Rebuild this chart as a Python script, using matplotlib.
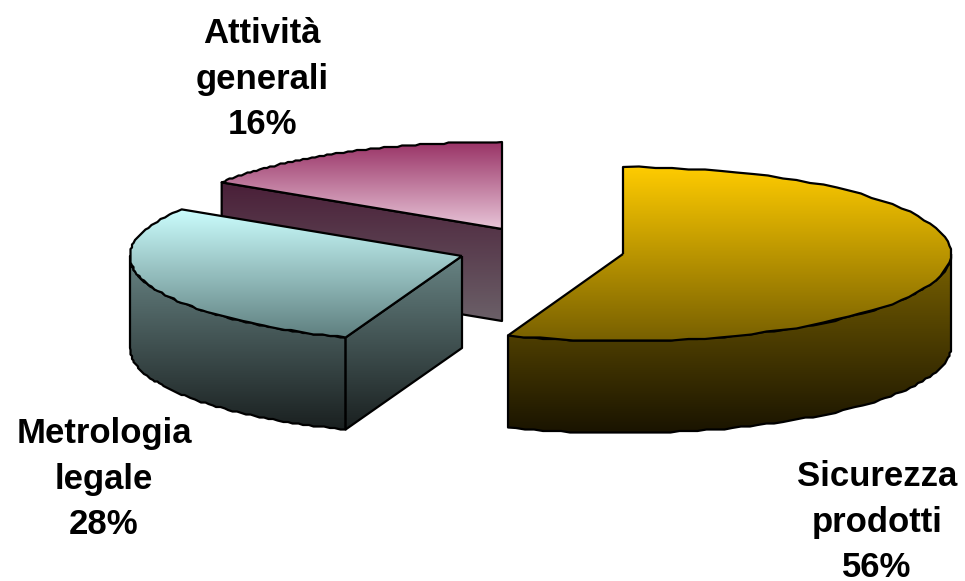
import numpy as np
import matplotlib
matplotlib.use("Agg")
import matplotlib.pyplot as plt
from matplotlib.colors import LinearSegmentedColormap
from matplotlib.patches import PathPatch
from matplotlib.path import Path

# shares, clockwise from 12 o'clock
names = [["Sicurezza", "prodotti"], ["Metrologia", "legale"], ["Attività", "generali"]]
shares = [55.7, 28.3, 16.0]

# apex of every exploded slice on the canvas (pixels)
centers = [(623, 254), (462, 256), (502, 229)]
radii_x = [328, 332, 332]
radius_y = 87
depth = 92

top_colors = [("#FFCC00", "#786000"), ("#CCFFFF", "#5F7F7F"), ("#993366", "#E8C5D8")]
side_colors = [("#7A6200", "#1A1400"), ("#688484", "#1A2020"), ("#4A1F38", "#6B6068")]
# first line baseline of each label
label_pos = [(877, 486), (104, 443), (262, 43)]
line_step = 45.7


def rim(center, rx, start, end, n=70):
    # ellipse points, angles in degrees clockwise from the top
    a = np.radians(np.linspace(start, end, n))
    pts = np.column_stack((center[0] + rx * np.sin(a), center[1] - radius_y * np.cos(a)))
    # the original outline is slightly stepped
    pts[1:-1] = np.round(pts[1:-1] / 1.5) * 1.5
    return pts


def gradient_poly(ax, pts, colors, zorder):
    pts = np.asarray(pts)
    cmap = LinearSegmentedColormap.from_list("g", colors)
    x0, x1 = pts[:, 0].min(), pts[:, 0].max()
    y0, y1 = pts[:, 1].min(), pts[:, 1].max()
    grad = np.linspace(0, 1, 256).reshape(-1, 1)
    im = ax.imshow(grad, cmap=cmap, extent=(x0, x1, y1, y0), aspect="auto", zorder=zorder,
                   interpolation="bilinear")
    patch = PathPatch(Path(np.vstack((pts, pts[:1]))), facecolor="none", edgecolor="black",
                      linewidth=1.6, joinstyle="round", zorder=zorder + 0.5)
    ax.add_patch(patch)
    im.set_clip_path(patch)


def draw_slice(ax, i, start, end, z):
    c = np.array(centers[i], dtype=float)
    rx = radii_x[i]
    arc = rim(c, rx, start, end)
    drop = np.array([0, depth])

    # curved wall, only the part that faces the viewer (90 to 270 degrees)
    lo, hi = max(start, 90), min(end, 270)
    if lo < hi:
        wall = rim(c, rx, lo, hi)
        gradient_poly(ax, np.vstack((wall, (wall + drop)[::-1])), side_colors[i], z)

    # the flat cut wall shows only on the left half of the pie
    if 180 < start < 360:
        edge = rim(c, rx, start, start, 1)[0]
        gradient_poly(ax, [c, edge, edge + drop, c + drop], side_colors[i], z + 1)

    gradient_poly(ax, np.vstack(([c], arc)), top_colors[i], z + 2)


fig = plt.figure(figsize=(9.65, 5.81), dpi=100)
ax = fig.add_axes([0, 0, 1, 1])

edges = np.concatenate(([0], np.cumsum(shares))) * 3.6
# back slices first
for i, z in zip([2, 1, 0], [2, 6, 10]):
    draw_slice(ax, i, edges[i], edges[i + 1], z)

for i, (x, y) in enumerate(label_pos):
    lines = names[i] + ["%d%%" % round(shares[i])]
    for j, line in enumerate(lines):
        ax.text(x, y + j * line_step, line, ha="center", va="baseline", fontsize=25,
                fontweight="bold", family="Liberation Sans", color="black", zorder=20)

ax.set_xlim(0, 965)
ax.set_ylim(581, 0)
ax.axis("off")
fig.savefig("out.png", dpi=100, facecolor="white")
